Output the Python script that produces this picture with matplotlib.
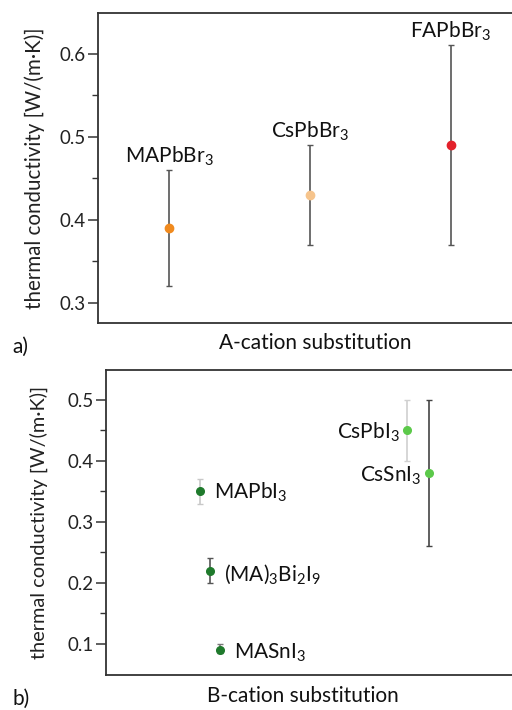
import matplotlib
matplotlib.use("Agg")
import matplotlib.pyplot as plt

plt.rcParams['font.family'] = ['Lato', 'DejaVu Sans']
plt.rcParams['mathtext.fontset'] = 'custom'
plt.rcParams['mathtext.rm'] = 'Lato'
plt.rcParams['mathtext.it'] = 'Lato:italic'
plt.rcParams['mathtext.bf'] = 'Lato:bold'

# ---- panel a data ----
a_names = ["MAPbBr$_3$", "CsPbBr$_3$", "FAPbBr$_3$"]
a_x = [1.0, 2.0, 3.0]
a_val = [0.39, 0.43, 0.49]
a_low = [0.32, 0.37, 0.37]
a_high = [0.46, 0.49, 0.61]
a_colors = ["#F08A1E", "#F6C48C", "#E3212B"]
a_ecolors = ["#555555", "#555555", "#555555"]

# ---- panel b data ----
b_names = ["MAPbI$_3$", "(MA)$_3$Bi$_2$I$_9$", "MASnI$_3$", "CsPbI$_3$", "CsSnI$_3$"]
b_x = [1.0, 1.1, 1.2, 3.07, 3.29]
b_val = [0.35, 0.22, 0.09, 0.45, 0.38]
b_low = [0.33, 0.20, 0.085, 0.40, 0.26]
b_high = [0.37, 0.24, 0.10, 0.50, 0.50]
b_colors = ["#1F7A2C", "#1F7A2C", "#1F7A2C", "#5CC94A", "#5CC94A"]
b_ecolors = ["#C8C8C8", "#555555", "#777777", "#D0D0D0", "#444444"]

fig = plt.figure(figsize=(5.12, 7.10), dpi=100)

def style_axes(ax, label_x, label_size):
    ax.spines['right'].set_visible(False)
    for s in ['left', 'top', 'bottom']:
        ax.spines[s].set_linewidth(1.3)
        ax.spines[s].set_color('#333333')
    ax.tick_params(axis='x', bottom=False, labelbottom=False)
    ax.tick_params(axis='y', which='major', length=7, width=1.1, color='#333333',
                   labelsize=13.5, labelcolor='#222222', pad=2)
    ax.tick_params(axis='y', which='minor', length=4, width=1.0, color='#333333')
    ax.set_ylabel("thermal conductivity [W/(m·K)]", fontsize=label_size, color='#222222')
    ax.yaxis.set_label_coords(label_x, 0.5)

# ---- panel a ----
axa = fig.add_axes([98/512, 1-323/710, 1-98/512, (323-13)/710])
for i in range(len(a_x)):
    axa.errorbar(a_x[i], a_val[i],
                 yerr=[[a_val[i]-a_low[i]], [a_high[i]-a_val[i]]],
                 fmt='o', color=a_colors[i], ecolor=a_ecolors[i], elinewidth=1.2,
                 capsize=2.3, capthick=1.0, markersize=6, zorder=3)
axa.set_xlim(0.4965, 3.4326)
axa.set_ylim(0.276, 0.649)
axa.set_yticks([0.3, 0.4, 0.5, 0.6])
axa.set_yticks([0.35, 0.45, 0.55], minor=True)
style_axes(axa, -0.128, 14.8)
for i in range(len(a_x)):
    axa.text(a_x[i], a_high[i] + 0.017, a_names[i], ha='center', va='center',
             fontsize=15, color='#111111')

# ---- panel b ----
axb = fig.add_axes([106/512, 1-675/710, 1-106/512, (675-370)/710])
for i in range(len(b_x)):
    axb.errorbar(b_x[i], b_val[i],
                 yerr=[[b_val[i]-b_low[i]], [b_high[i]-b_val[i]]],
                 fmt='o', color=b_colors[i], ecolor=b_ecolors[i], elinewidth=1.2,
                 capsize=2.3, capthick=1.0, markersize=5.5, zorder=3)
axb.set_xlim(0.06, 4.12)
axb.set_ylim(0.049, 0.549)
axb.set_yticks([0.1, 0.2, 0.3, 0.4, 0.5])
axb.set_yticks([0.15, 0.25, 0.35, 0.45], minor=True)
style_axes(axb, -0.144, 14.4)
b_ha = ['left', 'left', 'left', 'right', 'right']
b_dx = [0.14, 0.14, 0.14, -0.07, -0.07]
b_dy = [-0.002, -0.006, -0.004, -0.004, -0.004]
for i in range(len(b_x)):
    axb.text(b_x[i] + b_dx[i], b_val[i] + b_dy[i], b_names[i], ha=b_ha[i], va='center',
             fontsize=15, color='#111111')

# ---- panel labels and x labels ----
fig.text(315/512, 1-343/710, "A-cation substitution", ha='center', va='center',
         fontsize=15, color='#111111')
fig.text(12/512, 1-347/710, "a)", ha='left', va='center', fontsize=15, color='#111111')
fig.text(303/512, 1-696/710, "B-cation substitution", ha='center', va='center',
         fontsize=15, color='#111111')
fig.text(12/512, 1-699/710, "b)", ha='left', va='center', fontsize=15, color='#111111')

fig.savefig("out.png", dpi=100)
